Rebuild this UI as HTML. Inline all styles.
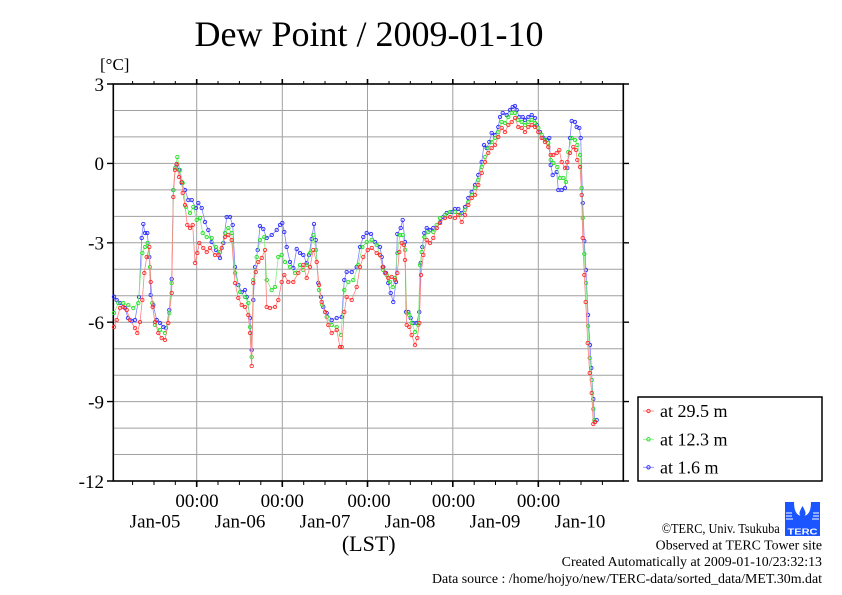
<!DOCTYPE html>
<html><head><meta charset="utf-8"><style>
html,body{margin:0;padding:0;background:#fff;}
svg{display:block;}
text{font-family:"Liberation Serif","DejaVu Serif",serif;fill:#000;}
</style></head><body>
<svg width="842" height="595" viewBox="0 0 842 595" xmlns="http://www.w3.org/2000/svg">
<defs>
<marker id="mb" markerUnits="userSpaceOnUse" markerWidth="6" markerHeight="6" refX="3" refY="3" viewBox="0 0 6 6"><circle cx="3" cy="3" r="1.7" fill="none" stroke="#2a2aff" stroke-width="0.9"/></marker>
<marker id="mg" markerUnits="userSpaceOnUse" markerWidth="6" markerHeight="6" refX="3" refY="3" viewBox="0 0 6 6"><circle cx="3" cy="3" r="1.7" fill="none" stroke="#22e022" stroke-width="0.9"/></marker>
<marker id="mr" markerUnits="userSpaceOnUse" markerWidth="6" markerHeight="6" refX="3" refY="3" viewBox="0 0 6 6"><circle cx="3" cy="3" r="1.7" fill="none" stroke="#ff2a2a" stroke-width="0.9"/></marker>
</defs>
<rect width="842" height="595" fill="#fff"/>
<text x="369" y="46" font-size="36" text-anchor="middle">Dew Point / 2009-01-10</text>
<text x="100" y="70" font-size="17">[°C]</text>
<!-- grid -->
<g stroke="#a0a0a0" stroke-width="1">
<line x1="113" y1="110.5" x2="623" y2="110.5"/><line x1="113" y1="136.9" x2="623" y2="136.9"/><line x1="113" y1="163.4" x2="623" y2="163.4"/><line x1="113" y1="189.9" x2="623" y2="189.9"/><line x1="113" y1="216.4" x2="623" y2="216.4"/><line x1="113" y1="242.8" x2="623" y2="242.8"/><line x1="113" y1="269.3" x2="623" y2="269.3"/><line x1="113" y1="295.8" x2="623" y2="295.8"/><line x1="113" y1="322.2" x2="623" y2="322.2"/><line x1="113" y1="348.7" x2="623" y2="348.7"/><line x1="113" y1="375.2" x2="623" y2="375.2"/><line x1="113" y1="401.6" x2="623" y2="401.6"/><line x1="113" y1="428.1" x2="623" y2="428.1"/><line x1="113" y1="454.5" x2="623" y2="454.5"/>
<line x1="196.7" y1="84" x2="196.7" y2="481"/><line x1="282.3" y1="84" x2="282.3" y2="481"/><line x1="367.5" y1="84" x2="367.5" y2="481"/><line x1="452.8" y1="84" x2="452.8" y2="481"/><line x1="538.3" y1="84" x2="538.3" y2="481"/>
</g>
<!-- ticks -->
<g stroke="#000" stroke-width="1">
<path d="M132.6 84v-3M154 84v-3M175.3 84v-3M218 84v-3M239.4 84v-3M260.8 84v-3M303.7 84v-3M325 84v-3M346.3 84v-3M389 84v-3M410.3 84v-3M431.6 84v-3M474.2 84v-3M495.5 84v-3M516.9 84v-3M559.7 84v-3M581 84v-3M602.4 84v-3"/>
<path d="M132.6 481v4M154 481v4M175.3 481v4M218 481v4M239.4 481v4M260.8 481v4M303.7 481v4M325 481v4M346.3 481v4M389 481v4M410.3 481v4M431.6 481v4M474.2 481v4M495.5 481v4M516.9 481v4M559.7 481v4M581 481v4M602.4 481v4"/>
<path stroke-width="1.6" d="M196.7 84v-5M282.3 84v-5M367.5 84v-5M452.8 84v-5M538.3 84v-5M196.7 481v6M282.3 481v6M367.5 481v6M452.8 481v6M538.3 481v6"/>
<path stroke-width="1.4" d="M107 84h6M107 163.4h6M107 242.8h6M107 322.2h6M107 401.6h6M107 481h6M623 84h6M623 163.4h6M623 242.8h6M623 322.2h6M623 401.6h6M623 481h6"/>
</g>
<rect x="113.3" y="84" width="510" height="397" fill="none" stroke="#000" stroke-width="1.6"/>
<!-- y labels -->
<g font-size="19" text-anchor="end">
<text x="104" y="91">3</text><text x="104" y="170">0</text><text x="104" y="249.5">-3</text><text x="104" y="329">-6</text><text x="104" y="408.5">-9</text><text x="104" y="488">-12</text>
</g>
<!-- x labels -->
<g font-size="19" text-anchor="middle">
<text x="197" y="507">00:00</text><text x="282.3" y="507">00:00</text><text x="369" y="507">00:00</text><text x="453.5" y="507">00:00</text><text x="538.5" y="507">00:00</text>
<text x="155" y="527.5">Jan-05</text><text x="240" y="527.5">Jan-06</text><text x="325" y="527.5">Jan-07</text><text x="410" y="527.5">Jan-08</text><text x="495" y="527.5">Jan-09</text><text x="580" y="527.5">Jan-10</text>
</g>
<text x="368.7" y="551" font-size="22" text-anchor="middle">(LST)</text>
<!-- series -->
<polyline fill="none" stroke="#8080ff" stroke-width="0.8" marker-start="url(#mb)" marker-mid="url(#mb)" marker-end="url(#mb)" points="114,296.7 116.7,300 120,303 125,308 128,318 131.7,321 135,320 139,297 141.7,238 143.3,224 145,233 147.3,233 149.3,257 150.7,295 153.3,305 156.7,320 160,323 163.3,327 166,328 169.3,310 171.7,279 173.3,190 175.3,168 176.7,165 179,170 181.7,183 185,190 188.3,200 191.7,200 196,208 198.3,203 201.7,208 205,222 208.3,230 211.7,242 216,250 220,258 223.3,243 226.7,217 230,217 232.7,225 235,267 238.3,285 241.7,292 245,290 246.7,297 250,318 251.7,350 253.3,300 255,267 257.7,250 260,226 263.3,229 266.7,238 271.7,235 276.7,230 280,225 282.3,223 284.3,232 286.7,247 290,262 293.3,268 296.7,249 300,253 303.3,255 306.7,263 309,255 311.7,239 314,224 315.7,240 318.3,283 321,297 323.3,307 326.7,313 331.7,320 336.7,318 341.7,317 344.3,280 346.7,272 351.7,272 356.7,267 360,247 363.3,237 366.7,233 371,234 375,242 380,247 381.7,257 383.3,267 386,273 388.3,283 390.7,293 393.3,302 396,282 397.3,234 400.7,228 402.7,220 405,242 406,312 408.3,312 410.7,318 413.3,323 416.7,323 419.3,312 420.7,263 422.3,247 424.3,233 426.7,228 430,230 433.3,228 436.7,228 440,222 443.3,217 446.7,213 451.7,212 455,209 458.3,209 461.7,213 465,207 468.3,198 471.7,192 475,185 478.3,175 481.7,162 484,145 486.7,148 489.3,142 491.7,133 495,135 498.3,127 500,117 502.7,113 506.7,115 510,110 512.7,107 515,106 516.7,110 519.3,117 522.7,117 525,120 528.3,117 531.7,115 535,118 536.7,125 540,132 543.3,138 546.7,140 549.3,138 550.7,165 552.7,175 556.7,172 558.3,190 561.7,190 565,188 567.3,168 570,138 571.7,121 575,122 576.7,127 579.3,128 580.7,138 582.7,203 584.3,241 586,270 588,315 590,345 591.3,368 593.3,399 595,422 596.7,420"/>
<polyline fill="none" stroke="#80f080" stroke-width="0.8" marker-start="url(#mg)" marker-mid="url(#mg)" marker-end="url(#mg)" points="114,313 118.3,303 123.3,303 128.3,305 133.3,308 138.3,303 142.3,253 145,247 147.7,243 150,267 152.3,303 155,325 160,330 165,333 169.3,313 171.7,283 173.3,190 175.3,168 177.3,157 180,170 182.7,183 186,207 190,213 193.3,207 196.7,220 200,218 202.7,233 206.7,237 211.7,238 216,247 220,252 225,233 228.3,228 231.7,233 235,273 240,292 245,297 248.3,303 250,327 251.7,357 253.3,280 256.7,257 260,240 264.3,237 266.7,280 271.7,290 275,287 278.3,257 281.7,255 285,262 290,267 295,273 300,265 303.3,270 306.7,265 310,253 313.3,235 316,250 319,290 322.3,305 326.7,317 331.7,325 336.7,327 341,335 344.3,290 348.3,282 353.3,280 358.3,265 362.3,247 366.7,242 371.7,240 376.7,245 380,255 383.3,270 386.7,275 390,282 392.7,287 395,278 397.3,253 400,235 402.7,235 405,250 406.7,313 409.3,315 411.7,323 415,332 418.3,325 420,265 421.7,252 424.3,237 428.3,232 433.3,232 436.7,225 440,218 445,215 450,212 455,212 460,215 465,210 468.3,202 471.7,195 475,188 478.3,180 481.7,167 485,157 488.3,148 491.7,142 495,138 498.3,132 501.7,122 505,123 508.3,117 511.7,113 515,113 518.3,120 521.7,122 525,125 528.3,122 531.7,120 535,123 538.3,128 541.7,135 545,140 548.3,143 550.7,160 553.3,163 557.3,167 560,178 563.3,178 566,182 568.3,152 571.7,138 575,140 577.3,145 580,155 581.7,188 582.7,218 584.3,254 586,283 588,326 589.7,358 591.7,380 593.3,409 594.3,420"/>
<polyline fill="none" stroke="#ff8080" stroke-width="0.8" marker-start="url(#mr)" marker-mid="url(#mr)" marker-end="url(#mr)" points="114,327 116.7,320 120,308 123.3,307 126.7,310 130,320 135,328 137.3,333 140,322 142.3,300 144.3,273 146.7,257 149.3,247 150.7,282 152.7,307 155,322 158.3,333 161.7,338 165,340 168.3,323 171.7,293 173.3,197 175,170 176.7,164 179,177 181.7,182 182.7,193 185,205 187.3,225 190,228 192.7,225 195,263 197.3,253 199.3,243 203.3,248 206.7,252 210,248 215,255 218.3,255 221.7,248 225,237 228.3,235 231.7,240 235,283 238.3,298 241.7,305 245,307 248.3,315 250,333 251.7,366 253.3,283 255.7,272 258.3,262 261.7,258 265,250 266.7,307 270,308 275,307 278.3,300 281.7,282 284.3,275 288.3,282 293.3,282 298.3,273 303.3,265 306.7,278 310,267 313.3,250 316.7,262 319,285 321.7,302 325,312 328.3,325 331.7,333 336.7,330 340,347 341.7,347 344.3,312 346.7,297 351.7,300 356.7,287 360,267 363.3,257 367.7,250 371.7,248 376.7,253 380,255 382.7,267 385,273 388.3,278 391.7,277 395,280 397.3,273 399.3,252 401.7,243 404,245 405,260 406.7,325 409.3,327 411.7,335 415,345 417.3,338 419.3,323 421,275 423.3,255 426.7,240 430,243 433.3,238 436.7,228 440,223 445,218 450,217 455,218 458.3,215 461.7,222 465,215 468.3,205 471.7,198 475,195 478.3,185 481.7,173 485,162 488.3,153 491.7,148 495,145 498.3,137 501.7,128 505,132 508.3,125 511.7,122 515,118 518.3,127 521.7,128 525,132 528.3,127 531.7,125 535,127 538.3,132 541.7,138 545,142 548.3,147 550.7,155 553.3,155 556.7,153 559.3,150 561.7,162 565,168 567.3,162 570,153 573.3,147 576,150 577.3,160 580,167 581.7,195 582.7,238 584.3,275 585.7,302 587.7,343 589.7,373 591.7,393 593.3,424 595,422"/>
<!-- legend -->
<rect x="638" y="397" width="184" height="84" fill="#fff" stroke="#000" stroke-width="1.5"/>
<line x1="643" y1="411" x2="654" y2="411" stroke="#ff8080" stroke-width="0.8"/><circle cx="648.5" cy="411" r="1.7" fill="none" stroke="#ff2a2a" stroke-width="0.9"/>
<line x1="643" y1="439.3" x2="654" y2="439.3" stroke="#80f080" stroke-width="0.8"/><circle cx="648.5" cy="439.3" r="1.7" fill="none" stroke="#22e022" stroke-width="0.9"/>
<line x1="643" y1="467.3" x2="654" y2="467.3" stroke="#8080ff" stroke-width="0.8"/><circle cx="648.5" cy="467.3" r="1.7" fill="none" stroke="#2a2aff" stroke-width="0.9"/>
<g font-size="18">
<text x="660" y="417">at 29.5 m</text><text x="660" y="445.3">at 12.3 m</text><text x="660" y="473.3">at 1.6 m</text>
</g>
<!-- footer -->
<g font-size="13.5">
<text x="661.7" y="533" textLength="118" lengthAdjust="spacingAndGlyphs">©TERC, Univ. Tsukuba</text>
<text x="655.7" y="549.5" textLength="166.3" lengthAdjust="spacingAndGlyphs">Observed at TERC Tower site</text>
<text x="561.7" y="566" textLength="260.3" lengthAdjust="spacingAndGlyphs">Created Automatically at 2009-01-10/23:32:13</text>
<text x="432" y="583" textLength="390" lengthAdjust="spacingAndGlyphs">Data source : /home/hojyo/new/TERC-data/sorted_data/MET.30m.dat</text>
</g>
<!-- logo -->
<g>
<rect x="785" y="502" width="35" height="34" fill="#1a55ff"/>
<path d="M794 502 Q794 516 802.5 516 Q811 516 811 502 Z" fill="#fff"/>
<path d="M802.5 506 Q799 512 799.5 514 Q800.5 517 802.5 517 Q804.5 517 805.5 514 Q806 512 802.5 506 Z" fill="#1a55ff"/>
<path d="M786 513h6M786 516h6M786 519h7M813 513h6M813 516h6M812 519h7" stroke="#fff" stroke-width="1"/>
<text x="802.5" y="534.5" font-size="8" font-weight="bold" text-anchor="middle" style="fill:#fff;font-family:'Liberation Sans',sans-serif" textLength="30" lengthAdjust="spacingAndGlyphs">TERC</text>
</g>
</svg>
</body></html>
